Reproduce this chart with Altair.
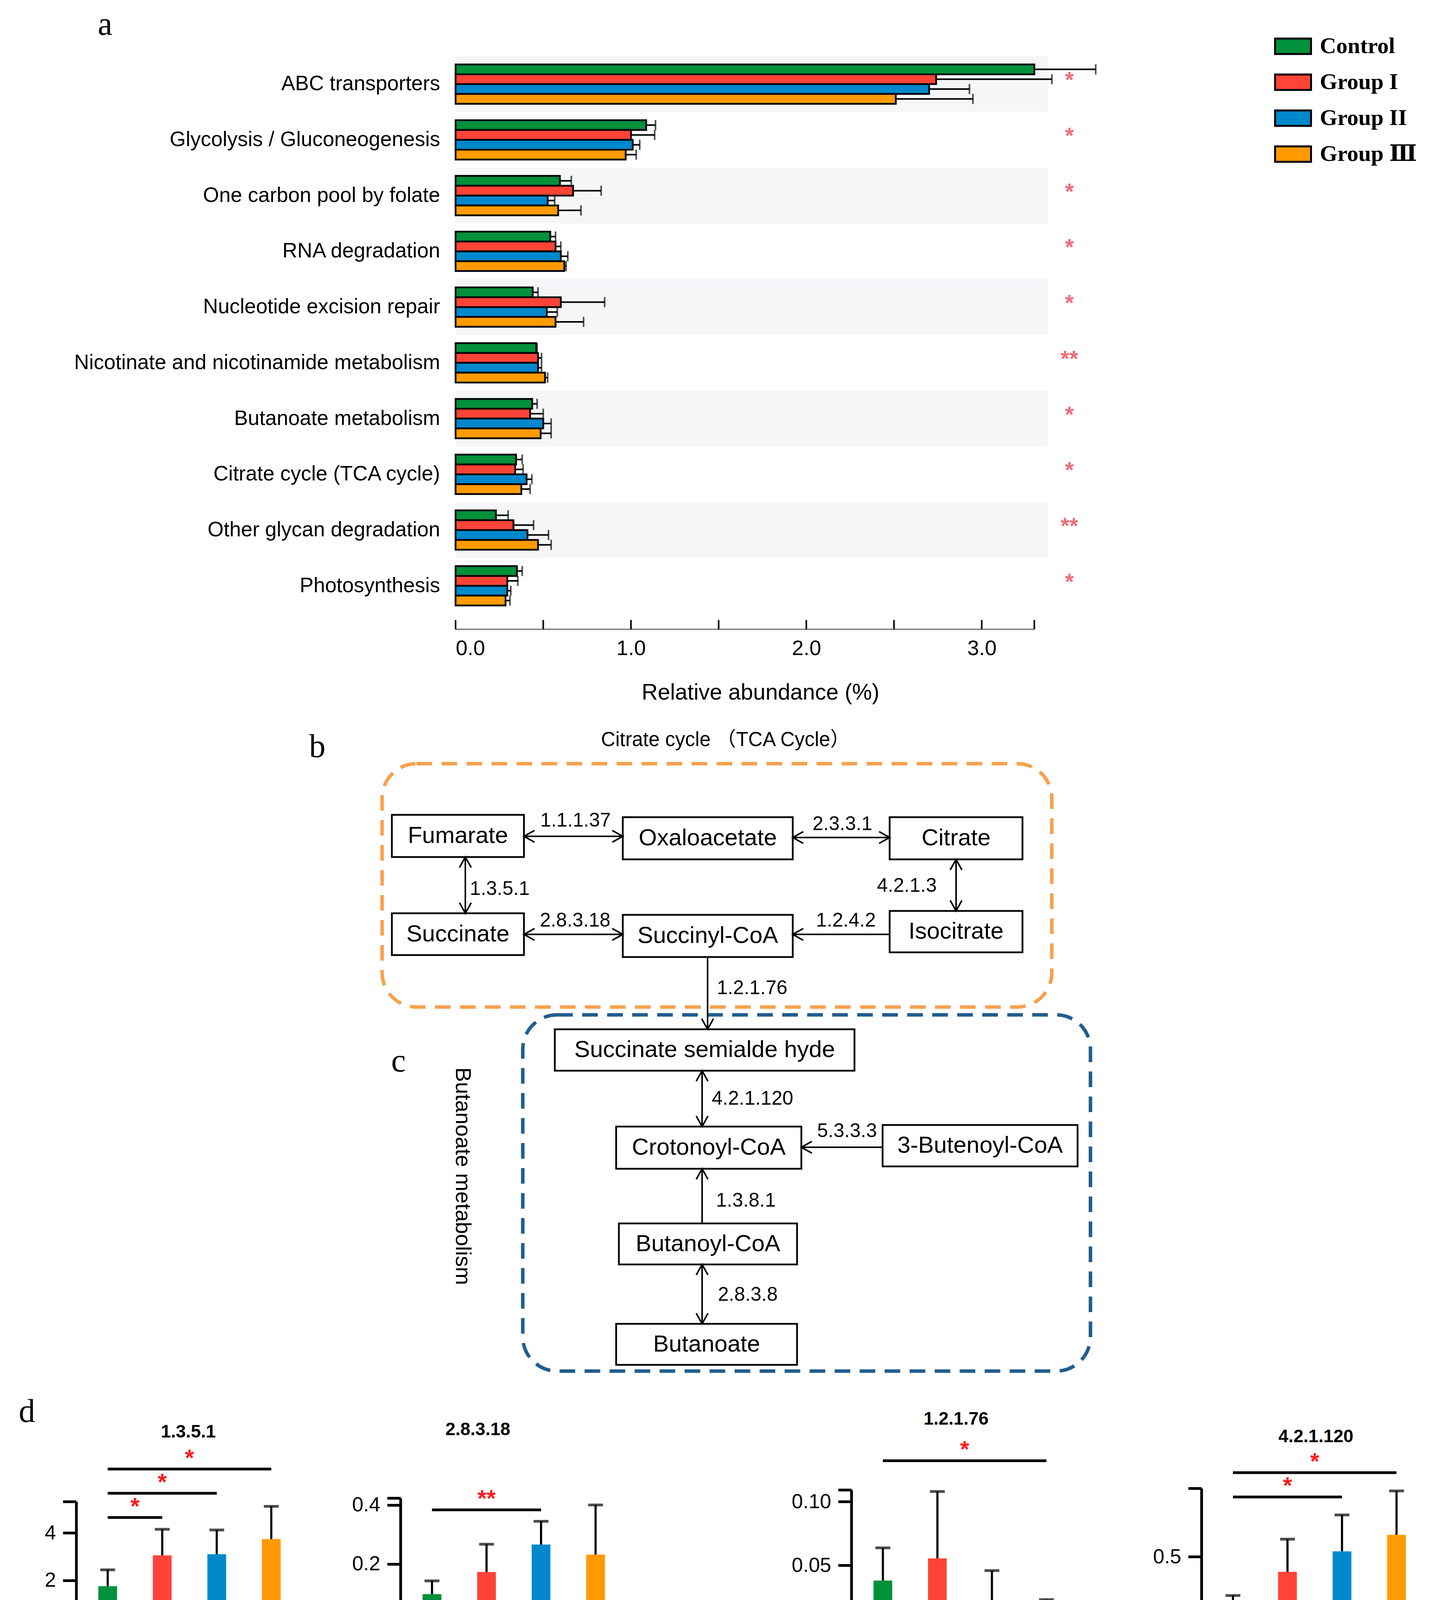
import math
import altair as alt
import pandas as pd

FONT = "Liberation Sans, Arial, sans-serif"
SERIF = "Liberation Serif, Times New Roman, DejaVu Serif, serif"
CJK = "Liberation Sans, Noto Sans CJK SC, sans-serif"

GROUPS = ["Control", "Group I", "Group II", "Group Ⅲ"]
COLORS = ["#00913a", "#ff4437", "#0088cc", "#ff9b00"]

# ---------------- panel a data ----------------
PATHWAYS = ["ABC transporters", "Glycolysis / Gluconeogenesis", "One carbon pool by folate",
            "RNA degradation", "Nucleotide excision repair", "Nicotinate and nicotinamide metabolism",
            "Butanoate metabolism", "Citrate cycle (TCA cycle)", "Other glycan degradation", "Photosynthesis"]
A_CONTROL = [3.30, 1.087, 0.595, 0.54, 0.44, 0.46, 0.437, 0.345, 0.23, 0.35]
A_GROUP1 = [2.74, 1.00, 0.67, 0.57, 0.60, 0.47, 0.425, 0.34, 0.33, 0.295]
A_GROUP2 = [2.70, 1.01, 0.525, 0.60, 0.52, 0.47, 0.50, 0.405, 0.41, 0.295]
A_GROUP3 = [2.51, 0.97, 0.585, 0.62, 0.57, 0.51, 0.485, 0.375, 0.47, 0.285]
A_CONTROL_SD = [0.35, 0.053, 0.065, 0.03, 0.03, 0.005, 0.028, 0.035, 0.07, 0.03]
A_GROUP1_SD = [0.66, 0.135, 0.16, 0.03, 0.25, 0.02, 0.075, 0.045, 0.115, 0.06]
A_GROUP2_SD = [0.23, 0.04, 0.04, 0.04, 0.06, 0.02, 0.045, 0.03, 0.12, 0.02]
A_GROUP3_SD = [0.44, 0.06, 0.13, 0.01, 0.16, 0.015, 0.06, 0.05, 0.075, 0.025]
A_SIG = ["*", "*", "*", "*", "*", "**", "*", "*", "**", "*"]
A_TICKS = [0, 0.5, 1.0, 1.5, 2.0, 2.5, 3.0, 3.3]

# ---------------- panel b/c diagram ----------------
NODE_LABELS = ["Fumarate", "Oxaloacetate", "Citrate", "Succinate", "Succinyl-CoA", "Isocitrate",
               "Succinate semialde hyde", "Crotonoyl-CoA", "3-Butenoyl-CoA", "Butanoyl-CoA", "Butanoate"]
ENZ_LABELS = ["1.1.1.37", "2.3.3.1", "4.2.1.3", "1.2.4.2", "2.8.3.18", "1.3.5.1",
              "1.2.1.76", "4.2.1.120", "5.3.3.3", "1.3.8.1", "2.8.3.8"]
DIAG_TITLE = "Citrate cycle （TCA Cycle）"
DIAG_SIDE = "Butanoate  metabolism"

# ---------------- panel d data ----------------
E1351_MEAN = [1.75, 3.05, 3.10, 3.74]; E1351_SD = [0.69, 1.10, 1.02, 1.38]
E28318_MEAN = [0.098, 0.173, 0.266, 0.232]; E28318_SD = [0.045, 0.094, 0.079, 0.168]
E12176_MEAN = [0.038, 0.0554, 0.0194, 0.011]; E12176_SD = [0.0257, 0.0526, 0.0264, 0.012]
E421120_MEAN = [0.13, 0.394, 0.539, 0.656]; E421120_SD = [0.096, 0.231, 0.258, 0.311]
E11137_MEAN = [1.08, 1.60, 2.40, 2.88]; E11137_SD = [1.00, 1.30, 1.05, 1.49]
E2331_MEAN = [10.17, 7.44, 8.15, 6.76]; E2331_SD = [2.86, 2.73, 2.05, 1.31]
E2838_MEAN = [0.58, 0.245, 0.40, 0.35]; E2838_SD = [0.71, 0.103, 0.08, 0.178]
E1381_MEAN = [0.91, 1.13, 1.63, 1.51]; E1381_SD = [0.50, 0.62, 0.51, 0.60]
E1242_MEAN = [0.117, 0.146, 0.278, 0.234]; E1242_SD = [0.076, 0.138, 0.114, 0.227]
E4213_MEAN = [8.44, 7.86, 7.39, 6.38]; E4213_SD = [1.53, 2.17, 2.11, 0.54]
E5333_MEAN = [0.128, 0.393, 0.54, 0.657]; E5333_SD = [0.095, 0.234, 0.257, 0.312]

# significance brackets: (group a, group b, level, label)
E1351_SIG = [(0, 1, 4.65, "*"), (0, 2, 5.67, "*"), (0, 3, 6.69, "*")]
E28318_SIG = [(0, 2, 0.3835, "**")]
E12176_SIG = [(0, 3, 0.1322, "*")]
E421120_SIG = [(0, 2, 0.9245, "*"), (0, 3, 1.0965, "*")]
E11137_SIG = [(0, 3, 5.057, "*")]
E2331_SIG = [(0, 3, 14.77, "*")]
E2838_SIG = [(1, 2, 1.0806, "*")]
E1381_SIG = [(0, 2, 2.524, "*")]
E1242_SIG = [(0, 2, 0.4673, "*")]
E4213_SIG = [(0, 3, 12.41, "**")]
E5333_SIG = [(0, 2, 1.014, "*"), (0, 3, 1.188, "*")]

# ================= canvas =================
CANVAS_W, CANVAS_H = 3708, 5420


def P(v):
    """page pixel -> canvas pixel (page has an 8px margin)"""
    return v - 8


# ================= panel a =================
A_LEFT, A_TOP, A_BOTTOM, A_W = 1166, 144, 1571, 1616
A_AXIS_Y = 1611

rows = []
for g, means, sds in zip(GROUPS, [A_CONTROL, A_GROUP1, A_GROUP2, A_GROUP3],
                         [A_CONTROL_SD, A_GROUP1_SD, A_GROUP2_SD, A_GROUP3_SD]):
    for p, m, s in zip(PATHWAYS, means, sds):
        rows.append({"pathway": p, "group": g, "mean": m, "upper": m + s})
dfa = pd.DataFrame(rows)

xs_a = alt.Scale(domain=[0, 3.6], range=[P(A_LEFT), P(A_LEFT) + A_W], nice=False, zero=False)
ys_a = alt.Scale(domain=PATHWAYS, range=[P(A_TOP), P(A_BOTTOM)], paddingInner=0, paddingOuter=0)
yo_a = alt.Scale(domain=GROUPS, paddingInner=0, paddingOuter=0.83)

X_AXIS_A = alt.Axis(orient="bottom", offset=P(A_AXIS_Y) - CANVAS_H, values=[0, 1, 2, 3], format=".1f",
                    tickCount=20, tickMinStep=0.001, labelOverlap=False,
                    domain=False, ticks=False, tickSize=0, grid=False, labelPadding=22, labelFontSize=54,
                    labelFont=FONT, labelColor="black", title="Relative abundance (%)",
                    titleFont=FONT, titleFontSize=57, titleFontWeight="normal",
                    titleColor="black", titlePadding=58, titleX=P(A_LEFT) + 780)
Y_AXIS_A = alt.Axis(orient="left", offset=-P(A_LEFT), title=None, domain=False, ticks=False,
                    labelPadding=40, labelFontSize=53, labelFont=FONT, labelColor="black",
                    labelLimit=1500)


def ya():
    return alt.Y("pathway:N", sort=PATHWAYS, scale=ys_a, axis=Y_AXIS_A)


def yoa():
    return alt.YOffset("group:N", sort=GROUPS, scale=yo_a)


bands = alt.Chart(pd.DataFrame({"pathway": PATHWAYS[::2]})).mark_rect(color="#f4f6f8").encode(
    x=alt.X(datum=0, scale=xs_a, axis=X_AXIS_A), x2=alt.datum(3.38), y=ya())

bars_a = alt.Chart(dfa).mark_bar(stroke="black", strokeWidth=4.5).encode(
    x=alt.X("mean:Q", scale=xs_a, stack=None, axis=X_AXIS_A),
    y=ya(), yOffset=yoa(),
    color=alt.Color("group:N", scale=alt.Scale(domain=GROUPS, range=COLORS),
                    legend=alt.Legend(orient="none", legendX=P(3261), legendY=P(118 - 46) - 2,
                                      title=None, direction="vertical",
                                      symbolType="M-1,-0.43H1V0.43H-1Z", symbolSize=8464,
                                      symbolStrokeColor="black", symbolStrokeWidth=5,
                                      labelFont=SERIF, labelFontSize=58, labelFontWeight="bold",
                                      labelColor="black", labelOffset=20, rowPadding=13, padding=0,
                                      labelLimit=800)),
)

err_a = alt.Chart(dfa).mark_rule(color="black", strokeWidth=4).encode(
    x=alt.X("mean:Q", scale=xs_a, axis=X_AXIS_A), x2="upper:Q", y=ya(), yOffset=yoa())
cap_a = alt.Chart(dfa).mark_tick(color="black", thickness=4, size=26, orient="vertical").encode(
    x=alt.X("upper:Q", scale=xs_a, axis=X_AXIS_A), y=ya(), yOffset=yoa())
stars_a = alt.Chart(pd.DataFrame({"pathway": PATHWAYS, "sig": A_SIG})).mark_text(
    color="#f26b77", fontSize=58, fontWeight="bold", font=FONT, baseline="middle", dy=-8
).encode(x=alt.X(datum=3.5, scale=xs_a, axis=X_AXIS_A), y=ya(), text="sig:N")

axline_a = alt.Chart(pd.DataFrame({"v": [0]})).mark_rule(color="#8c8c8c", strokeWidth=4).encode(
    x=alt.X(datum=0, scale=xs_a, axis=X_AXIS_A), x2=alt.datum(3.3), y=alt.value(P(A_AXIS_Y)))
axticks_a = alt.Chart(pd.DataFrame({"v": A_TICKS})).mark_rule(color="black", strokeWidth=4).encode(
    x=alt.X("v:Q", scale=xs_a, axis=X_AXIS_A), y=alt.value(P(A_AXIS_Y)), y2=alt.value(P(A_AXIS_Y) - 24))
label_a = alt.Chart(pd.DataFrame({"t": ["a"]})).mark_text(
    font=SERIF, fontSize=84, align="center", baseline="alphabetic", color="black"
).encode(x=alt.value(P(269)), y=alt.value(P(89)), text="t:N")

panel_a = alt.layer(bands, bars_a, err_a, cap_a, stars_a, axline_a, axticks_a, label_a)

# ================= panel b / c diagram =================
gx = alt.Scale(domain=[8, 8 + CANVAS_W], range=[0, CANVAS_W], nice=False, zero=False)
gy = alt.Scale(domain=[8, 8 + CANVAS_H], range=[0, CANVAS_H], nice=False, zero=False)

NODE_X1 = [1003, 1594, 2277, 1003, 1594, 2277, 1420, 1577, 2259, 1584, 1577]
NODE_X2 = [1341, 2029, 2617, 1341, 2029, 2617, 2187, 2051, 2758, 2040, 2040]
NODE_Y1 = [2086, 2092, 2092, 2338, 2342, 2332, 2635, 2884, 2880, 3132, 3389]
NODE_Y2 = [2194, 2200, 2200, 2445, 2450, 2438, 2741, 2992, 2986, 3237, 3494]
nodes = pd.DataFrame({"label": NODE_LABELS, "x": NODE_X1, "x2": NODE_X2, "y": NODE_Y1, "y2": NODE_Y2})
nodes["cx"] = (nodes.x + nodes.x2) / 2
nodes["cy"] = (nodes.y + nodes.y2) / 2

ENZ_X = [1473, 2156, 2321, 2165, 1472, 1279, 1925, 1926, 2168, 1909, 1914]
ENZ_Y = [2101, 2110, 2268, 2357, 2357, 2276, 2530, 2813, 2896, 3074, 3315]
enz = pd.DataFrame({"label": ENZ_LABELS, "x": ENZ_X, "y": ENZ_Y})

# arrows: x1, y1, x2, y2, both-headed?
ARROWS = [
    (1341, 2141, 1594, 2141, True),
    (2029, 2144, 2277, 2144, True),
    (2447, 2200, 2447, 2332, True),
    (2277, 2392, 2029, 2392, False),
    (1341, 2392, 1594, 2392, True),
    (1191, 2194, 1191, 2338, True),
    (1811, 2450, 1811, 2635, False),
    (1797, 2741, 1797, 2884, True),
    (2259, 2937, 2051, 2937, False),
    (1797, 3132, 1797, 2992, False),
    (1797, 3237, 1797, 3389, True),
]
arr = pd.DataFrame([{"x": a[0], "y": a[1], "x2": a[2], "y2": a[3]} for a in ARROWS])
heads = []
for x1, y1, x2, y2, both in ARROWS:
    ang = math.degrees(math.atan2(y2 - y1, x2 - x1)) % 360
    heads.append({"x": x2, "y": y2, "angle": ang})
    if both:
        heads.append({"x": x1, "y": y1, "angle": (ang + 180) % 360})
heads = pd.DataFrame(heads)

regions = pd.DataFrame({"x": [978, 1338], "x2": [2692, 2791], "y": [1955, 2598], "y2": [2578, 3510],
                        "c": ["#f7a14e", "#215d8f"]})


def gX(f):
    return alt.X(f, scale=gx, axis=None)


def gY(f):
    return alt.Y(f, scale=gy, axis=None)


reg_layer = alt.Chart(regions).mark_rect(fillOpacity=0, strokeWidth=9, strokeDash=[40, 24],
                                         cornerRadius=88).encode(
    x=gX("x:Q"), x2="x2:Q", y=gY("y:Q"), y2="y2:Q", stroke=alt.Stroke("c:N", scale=None))
arr_layer = alt.Chart(arr).mark_rule(color="black", strokeWidth=4).encode(
    x=gX("x:Q"), x2="x2:Q", y=gY("y:Q"), y2="y2:Q")
box_layer = alt.Chart(nodes).mark_rect(fill="white", stroke="black", strokeWidth=4.5).encode(
    x=gX("x:Q"), x2="x2:Q", y=gY("y:Q"), y2="y2:Q")
box_text = alt.Chart(nodes).mark_text(font=FONT, fontSize=60, color="black", baseline="middle").encode(
    x=gX("cx:Q"), y=gY("cy:Q"), text="label:N")
enz_text = alt.Chart(enz).mark_text(font=FONT, fontSize=50, color="black", baseline="middle").encode(
    x=gX("x:Q"), y=gY("y:Q"), text="label:N")
head_layer = alt.Chart(heads).mark_point(shape="M-1.8,-1L0,0L-1.8,1", filled=False, size=900,
                                         strokeWidth=4, color="black", opacity=1).encode(
    x=gX("x:Q"), y=gY("y:Q"), angle=alt.Angle("angle:Q", scale=None))
title_layer = alt.Chart(pd.DataFrame({"t": [DIAG_TITLE], "x": [1857], "y": [1895]})).mark_text(
    font=CJK, fontSize=51, color="black", baseline="middle").encode(x=gX("x:Q"), y=gY("y:Q"), text="t:N")
side_layer = alt.Chart(pd.DataFrame({"t": [DIAG_SIDE], "x": [1184], "y": [3011]})).mark_text(
    font=FONT, fontSize=56, color="black", baseline="middle", angle=90).encode(
    x=gX("x:Q"), y=gY("y:Q"), text="t:N")
letters = alt.Chart(pd.DataFrame({"t": ["b", "c", "d"], "x": [812, 1020, 69],
                                  "y": [1938, 2743, 3640]})).mark_text(
    font=SERIF, fontSize=84, color="black", baseline="alphabetic").encode(
    x=gX("x:Q"), y=gY("y:Q"), text="t:N")

diagram = alt.layer(reg_layer, arr_layer, box_layer, box_text, enz_text, head_layer,
                    title_layer, side_layer, letters)

# ================= panel d =================
D_W = 580
XPOS = [0, 1, 2, 3]


def enzyme_chart(name, means, sds, sig, lay, legend=None):
    T = lay["top"]
    ax, zero = lay["axis_x"], lay["zero"]
    xs = alt.Scale(domain=[-0.5423, 3.5423], range=[P(ax), P(ax) + D_W], nice=False, zero=False)
    ys = alt.Scale(domain=[0, T], range=[P(zero), P(zero) - lay["axis_h"]], nice=False, zero=False)
    df = pd.DataFrame({"group": GROUPS, "pos": XPOS, "mean": means,
                       "upper": [m + s for m, s in zip(means, sds)]})
    yaxis = alt.Axis(orient="left", offset=-P(ax), title=None, values=lay["ticks"] + [T],
                     tickCount=20, tickMinStep=0.001, labelOverlap=False, labelFlush=False,
                     format=lay["fmt"], labelExpr=f"datum.value > {T * 0.999:.6f} ? '' : datum.label",
                     domain=True, domainColor="black", domainWidth=7, grid=False, tickSize=34,
                     tickWidth=7, tickColor="black", labelFontSize=52, labelFont=FONT,
                     labelColor="black", labelPadding=18)
    xaxis = alt.Axis(orient="bottom", offset=P(zero) - CANVAS_H, title=None, labels=False, ticks=False,
                     grid=False, domain=True, domainColor="black", domainWidth=8)

    def X(f):
        return alt.X(f, scale=xs, axis=xaxis)

    def Y(f):
        return alt.Y(f, scale=ys, axis=yaxis, stack=None)

    bars = alt.Chart(df).mark_bar(size=48, orient="vertical").encode(
        x=X("pos:Q"), y=Y("mean:Q"),
        color=alt.Color("group:N", scale=alt.Scale(domain=GROUPS, range=COLORS), legend=legend),
    )
    err = alt.Chart(df).mark_rule(color="black", strokeWidth=5.5).encode(
        x=X("pos:Q"), y=Y("mean:Q"), y2="upper:Q")
    cap = alt.Chart(df).mark_tick(color="black", orient="horizontal", size=38, thickness=7).encode(
        x=X("pos:Q"), y=Y("upper:Q"))
    bdf = pd.DataFrame([{"a": a, "b": b, "mid": (a + b) / 2, "lvl": lv, "sig": s} for a, b, lv, s in sig])
    brk = alt.Chart(bdf).mark_rule(color="black", strokeWidth=7).encode(
        x=X("a:Q"), x2="b:Q", y=Y("lvl:Q"))
    stars = alt.Chart(bdf).mark_text(color="#ff1a1a", fontSize=60, fontWeight="bold", font=FONT,
                                     baseline="alphabetic", dy=-9).encode(
        x=X("mid:Q"), y=Y("lvl:Q"), text="sig:N")
    title = alt.Chart(pd.DataFrame({"t": [name]})).mark_text(
        font="Liberation Sans Narrow, Liberation Sans, Arial", fontSize=46, fontWeight="bold",
        color="black", baseline="middle").encode(
        x=alt.value(P(lay["title_x"])),
        y=alt.Y(datum=lay["title_val"], scale=ys, axis=yaxis), text="t:N")
    return alt.layer(bars, err, cap, brk, stars, title)


LAYOUT = {
    "1.3.5.1": dict(axis_x=195, zero=4167, top=5.32, axis_h=323, ticks=[0, 2, 4], fmt=".0f", title_val=8.26, title_x=482),
    "2.8.3.18": dict(axis_x=1025, zero=4155, top=0.4236, axis_h=320, ticks=[0, 0.2, 0.4], fmt=".1f", title_val=0.655, title_x=1223),
    "1.2.1.76": dict(axis_x=2179, zero=4170, top=0.1093, axis_h=356, ticks=[0, 0.05, 0.10], fmt=".2f", title_val=0.1649, title_x=2447),
    "4.2.1.120": dict(axis_x=3075, zero=4166, top=0.986, axis_h=356, ticks=[0, 0.5], fmt=".1f", title_val=1.351, title_x=3368),
    "1.1.1.37": dict(axis_x=181, zero=4761, top=4.48, axis_h=325, ticks=[0, 2, 4], fmt=".0f", title_val=6.40, title_x=457),
    "2.3.3.1": dict(axis_x=1027, zero=4761, top=13.56, axis_h=324, ticks=[0, 5, 10], fmt=".0f", title_val=18.58, title_x=1329),
    "2.8.3.8": dict(axis_x=2154, zero=4726, top=1.35, axis_h=358, ticks=[0, 0.5, 1.0], fmt=".1f", title_val=1.54, title_x=2447),
    "1.3.8.1": dict(axis_x=3089, zero=4719, top=2.37, axis_h=357, ticks=[0, 1, 2], fmt=".0f", title_val=2.937, title_x=3325),
    "1.2.4.2": dict(axis_x=218, zero=5352, top=0.507, axis_h=321, ticks=[0, 0.2, 0.4], fmt=".1f", title_val=0.644, title_x=522),
    "4.2.1.3": dict(axis_x=994, zero=5351, top=10.09, axis_h=321, ticks=[0, 5], fmt=".0f", title_val=15.26, title_x=1288),
    "5.3.3.3": dict(axis_x=2197, zero=5379, top=0.99, axis_h=355, ticks=[0, 0.5], fmt=".1f", title_val=1.383, title_x=2467),
}

legend_d = alt.Legend(orient="none", legendX=P(2873), legendY=P(4922 - 38) - 6, title=None,
                      direction="vertical", symbolType="M-1,-0.42H1V0.42H-1Z", symbolSize=5776,
                      symbolStrokeColor="black", symbolStrokeWidth=5, labelFont=SERIF,
                      labelFontSize=49, labelFontWeight="bold", labelColor="black", labelOffset=16,
                      rowPadding=8, padding=0, labelLimit=600)

subplots = [
    enzyme_chart("1.3.5.1", E1351_MEAN, E1351_SD, E1351_SIG, LAYOUT["1.3.5.1"]),
    enzyme_chart("2.8.3.18", E28318_MEAN, E28318_SD, E28318_SIG, LAYOUT["2.8.3.18"]),
    enzyme_chart("1.2.1.76", E12176_MEAN, E12176_SD, E12176_SIG, LAYOUT["1.2.1.76"]),
    enzyme_chart("4.2.1.120", E421120_MEAN, E421120_SD, E421120_SIG, LAYOUT["4.2.1.120"]),
    enzyme_chart("1.1.1.37", E11137_MEAN, E11137_SD, E11137_SIG, LAYOUT["1.1.1.37"]),
    enzyme_chart("2.3.3.1", E2331_MEAN, E2331_SD, E2331_SIG, LAYOUT["2.3.3.1"]),
    enzyme_chart("2.8.3.8", E2838_MEAN, E2838_SD, E2838_SIG, LAYOUT["2.8.3.8"]),
    enzyme_chart("1.3.8.1", E1381_MEAN, E1381_SD, E1381_SIG, LAYOUT["1.3.8.1"]),
    enzyme_chart("1.2.4.2", E1242_MEAN, E1242_SD, E1242_SIG, LAYOUT["1.2.4.2"]),
    enzyme_chart("4.2.1.3", E4213_MEAN, E4213_SD, E4213_SIG, LAYOUT["4.2.1.3"]),
    enzyme_chart("5.3.3.3", E5333_MEAN, E5333_SD, E5333_SIG, LAYOUT["5.3.3.3"], legend=legend_d),
]

chart = alt.layer(panel_a, diagram, *subplots).resolve_scale(
    x="independent", y="independent", color="independent"
).resolve_legend(color="independent").properties(
    width=CANVAS_W, height=CANVAS_H, padding=0, background="white"
).configure_view(stroke=None)

chart.save("out.html", embed_options={"renderer": "svg", "actions": False})
